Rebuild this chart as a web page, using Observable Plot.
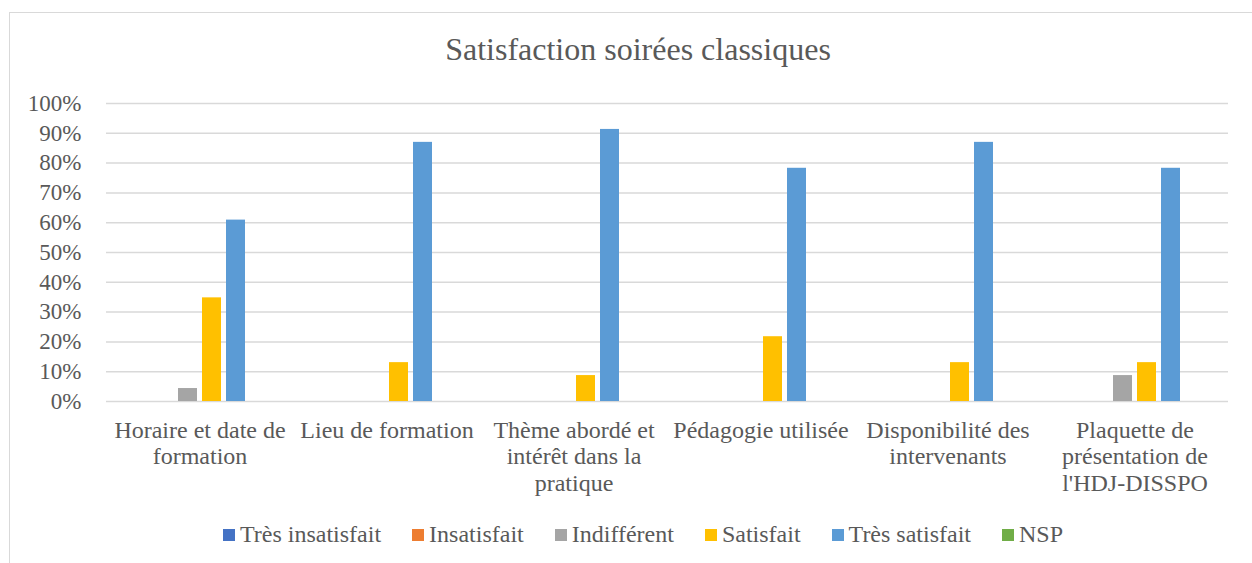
<!DOCTYPE html>
<html>
<head>
<meta charset="utf-8">
<script src="https://cdn.jsdelivr.net/npm/d3@7"></script>
<script src="https://cdn.jsdelivr.net/npm/@observablehq/plot@0.6"></script>
<style>
  html, body { margin: 0; padding: 0; background: #fff; width: 1252px; height: 563px; overflow: hidden; }
  body { position: relative; font-family: "Liberation Serif", "Times New Roman", serif; }
  #frame { position: absolute; left: 9px; top: 12px; width: 1270px; height: 600px; border: 1px solid #d9d9d9; box-sizing: border-box; pointer-events: none; }
  #title { position: absolute; left: 0; width: 1276px; top: 33px; text-align: center; font-size: 32px; color: #595959; line-height: 1; }
  #chart { position: absolute; left: 0; top: 0; }
  #legend { position: absolute; left: 0; width: 1286px; top: 521px; display: flex; justify-content: center; align-items: center; gap: 31px; font-size: 24px; color: #595959; }
  .item { display: flex; align-items: center; gap: 5px; }
  .sw { width: 12px; height: 12px; display: inline-block; }
</style>
</head>
<body>
<div id="chart"></div>
<div id="title">Satisfaction soirées classiques</div>
<div id="legend"></div>
<div id="frame"></div>
<script>
const categories = [
  "Horaire et date de formation",
  "Lieu de formation",
  "Thème abordé et intérêt dans la pratique",
  "Pédagogie utilisée",
  "Disponibilité des intervenants",
  "Plaquette de présentation de l'HDJ-DISSPO"
];
const categoryLabels = [
  "Horaire et date de\nformation",
  "Lieu de formation",
  "Thème abordé et\nintérêt dans la\npratique",
  "Pédagogie utilisée",
  "Disponibilité des\nintervenants",
  "Plaquette de\nprésentation de\nl'HDJ-DISSPO"
];
const series = ["Très insatisfait", "Insatisfait", "Indifférent", "Satisfait", "Très satisfait", "NSP"];
const seriesColors = ["#4472C4", "#ED7D31", "#A5A5A5", "#FFC000", "#5B9BD5", "#70AD47"];

const tresInsatisfait = [0, 0, 0, 0, 0, 0];
const insatisfait     = [0, 0, 0, 0, 0, 0];
const indifferent     = [4.35, 0, 0, 0, 0, 8.7];
const satisfait       = [34.78, 13.04, 8.7, 21.74, 13.04, 13.04];
const tresSatisfait   = [60.87, 86.96, 91.3, 78.26, 86.96, 78.26];
const nsp             = [0, 0, 0, 0, 0, 0];
const yTicks = [0, 10, 20, 30, 40, 50, 60, 70, 80, 90, 100];

const seriesValues = [tresInsatisfait, insatisfait, indifferent, satisfait, tresSatisfait, nsp];
const data = [];
categories.forEach((c, i) => {
  series.forEach((s, j) => {
    data.push({category: c, series: s, value: seriesValues[j][i]});
  });
});
const labelData = categories.map((c, i) => ({category: c, label: categoryLabels[i]}));

const plot = Plot.plot({
  width: 1252,
  height: 510,
  marginTop: 103,
  marginBottom: 109,
  marginLeft: 103,
  marginRight: 22,
  style: {fontFamily: "'Liberation Serif', 'Times New Roman', serif", fontSize: "24px", color: "#595959", background: "transparent"},
  fx: {domain: categories, padding: 0, axis: null, label: null},
  x: {domain: series, paddingInner: 0.2, paddingOuter: 0.856, axis: null},
  y: {domain: [0, 100], label: null, axis: null},
  color: {domain: series, range: seriesColors},
  marks: [
    Plot.ruleY(yTicks, {stroke: "#d9d9d9", strokeWidth: 1.5}),
    Plot.axisY({ticks: yTicks, tickSize: 0, tickPadding: 25, tickFormat: d => d + "%", fill: "#595959", fontSize: 23, label: null}),
    Plot.barY(data, {fx: "category", x: "series", y: "value", fill: "series"}),
    Plot.text(labelData, {fx: "category", text: "label", frameAnchor: "bottom", dy: 17, lineAnchor: "top", lineHeight: 1.12, fill: "#595959", fontSize: 24})
  ]
});
document.getElementById("chart").appendChild(plot);

const legend = document.getElementById("legend");
series.forEach((s, i) => {
  const item = document.createElement("div");
  item.className = "item";
  const sw = document.createElement("span");
  sw.className = "sw";
  sw.style.background = seriesColors[i];
  const t = document.createElement("span");
  t.textContent = s;
  item.appendChild(sw);
  item.appendChild(t);
  legend.appendChild(item);
});
</script>
</body>
</html>
